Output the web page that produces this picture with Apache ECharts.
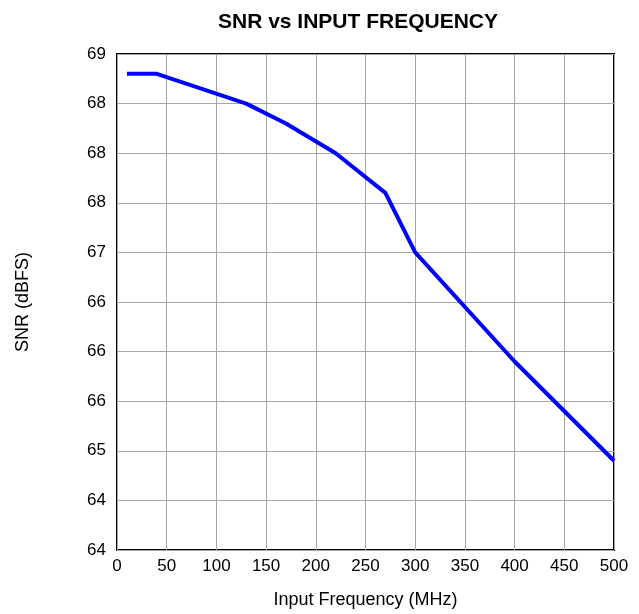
<!DOCTYPE html>
<html>
<head>
<meta charset="utf-8">
<script src="https://cdn.jsdelivr.net/npm/echarts@6/dist/echarts.min.js"></script>
<style>
	html, body { margin: 0; padding: 0; background: #fff; }
	#snr-chart { width: 639px; height: 614px; }
</style>
</head>
<body>
<div id="snr-chart"></div>
<script>
var freqMHz = [10, 40, 130, 170, 220, 270, 300, 400, 500];
var snrDbfs = [68.8, 68.8, 68.5, 68.3, 68.0, 67.6, 67.0, 65.9, 64.9];
// labels printed on the y axis, bottom to top (64 .. 69, step 0.5)
var yTickLabels = ['64', '64', '65', '66', '66', '66', '67', '68', '68', '68', '69'];

function snrChart(){
	var chart = echarts.init(document.getElementById('snr-chart'));

	var option = {
		animation: false,
		textStyle: { fontFamily: 'Liberation Sans, Arial, sans-serif' },
		title: {
			text: 'SNR vs INPUT FREQUENCY',
			left: 353,
			textAlign: 'center',
			top: 7,
			textStyle: {
				fontSize: 21,
				fontWeight: 'bold',
				color: '#000',
				fontFamily: 'Liberation Sans, Arial, sans-serif'
			}
		},
		grid: {
			left: 117,
			right: 25,
			top: 54,
			bottom: 64,
			show: true,
			borderColor: '#000',
			borderWidth: 2
		},
		xAxis: {
			type: 'value',
			min: 0,
			max: 500,
			interval: 50,
			name: 'Input Frequency (MHz)',
			nameLocation: 'middle',
			nameGap: 41,
			nameTextStyle: { fontSize: 18, color: '#000' },
			axisLine: { show: false },
			axisTick: { show: false },
			axisLabel: { fontSize: 17, color: '#000', margin: 8 },
			splitLine: { lineStyle: { color: '#a6a6a6', width: 1 } }
		},
		yAxis: {
			type: 'value',
			min: 64,
			max: 69,
			interval: 0.5,
			name: 'SNR (dBFS)',
			nameLocation: 'middle',
			nameGap: 85,
			nameTextStyle: { fontSize: 18, color: '#000' },
			axisLine: { show: false },
			axisTick: { show: false },
			axisLabel: {
				fontSize: 17,
				color: '#000',
				margin: 11,
				formatter: function(v){
					return yTickLabels[Math.round((v - 64) / 0.5)];
				}
			},
			splitLine: { lineStyle: { color: '#a6a6a6', width: 1 } }
		},
		series: [
			{
				name: 'SNR',
				type: 'line',
				data: freqMHz.map(function(f, i){ return [f, snrDbfs[i]]; }),
				showSymbol: false,
				lineStyle: { color: '#0000ff', width: 4 },
				itemStyle: { color: '#0000ff' }
			}
		]
	};

	chart.setOption(option);
}

snrChart();
</script>
</body>
</html>
